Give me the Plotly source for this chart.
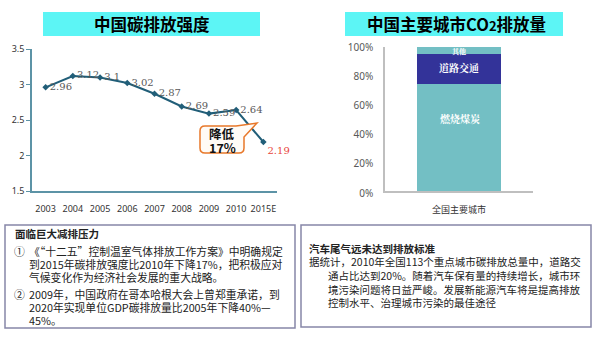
import plotly.graph_objects as go

# ---------------- data ----------------
years = ['2003', '2004', '2005', '2006', '2007', '2008', '2009', '2010', '2015E']
intensity = [2.96, 3.12, 3.1, 3.02, 2.87, 2.69, 2.59, 2.64, 2.19]
intensity_labels = ['2.96', '3.12', '3.1', '3.02', '2.87', '2.69', '2.59', '2.64', '2.19']

city_cat = ['全国主要城市']
seg_names = ['燃烧煤炭', '道路交通', '其他']
seg_values = [0.75, 0.20, 0.05]

left_title = '中国碳排放强度'
right_title = "中国主要城市CO<span style='font-size:13px'>2</span>排放量"
callout_lines = ['降低', '17%']

left_box_title = '面临巨大减排压力'
left_box_marks = ['①', '②']
left_box_items = [
    ['《“十二五”控制温室气体排放工作方案》中明确规定',
     '到2015年碳排放强度比2010年下降17%，把积极应对',
     '气候变化作为经济社会发展的重大战略。'],
    ['2009年，中国政府在哥本哈根大会上曾郑重承诺，到',
     '2020年实现单位GDP碳排放量比2005年下降40%—',
     '45%。'],
]
right_box_title = '汽车尾气远未达到排放标准'
right_box_lines = ['据统计，2010年全国113个重点城市碳排放总量中，道路交',
                   '通占比达到20%。随着汽车保有量的持续增长，城市环',
                   '境污染问题将日益严峻。发展新能源汽车将是提高排放',
                   '控制水平、治理城市污染的最佳途径']

# ---------------- helpers ----------------
W, H = 600, 345
CJK = 'Noto Sans CJK SC'


def px(x):
    return x / W


def py(y):
    return 1 - y / H


def note(x, y, text, size, color='#222222', xanchor='center', family=CJK):
    return dict(x=px(x), y=py(y), xref='paper', yref='paper', xanchor=xanchor, yanchor='middle',
                text=text, showarrow=False, font=dict(family=family, size=size, color=color))


fig = go.Figure()

# left line chart
label_pos = ['middle right'] * (len(years) - 1) + ['bottom right']
label_col = ['#595959'] * (len(years) - 1) + ['#E8463C']
fig.add_trace(go.Scatter(
    x=years, y=intensity, mode='lines+markers+text',
    text=intensity_labels, textposition=label_pos,
    textfont=dict(family='DejaVu Serif', size=10, color=label_col),
    line=dict(color='#215E78', width=2),
    marker=dict(symbol='diamond', size=5, color='#215E78'),
    xaxis='x', yaxis='y', showlegend=False, cliponaxis=False))

# right stacked bar
seg_colors = ['#73BFC4', '#333399', '#73BFC4']
for name, val, col in zip(seg_names, seg_values, seg_colors):
    fig.add_trace(go.Bar(
        x=city_cat, y=[val], name=name, marker=dict(color=col, line=dict(width=0)),
        width=0.57, xaxis='x2', yaxis='y2', showlegend=False))

# segment labels (placed through the data scale)
base = 0
seg_label_frac = [0.68, 0.55, 0.45]
seg_label_size = [10, 10, 7]
anns = []
for name, val, fr, sz in zip(seg_names, seg_values, seg_label_frac, seg_label_size):
    anns.append(dict(x=city_cat[0], y=base + val * fr, xref='x2', yref='y2', text='<b>' + name + '</b>',
                     xanchor='center', yanchor='middle',
                     showarrow=False, font=dict(family='Noto Serif CJK SC, ' + CJK, size=sz, color='white')))
    base += val

axis_col = '#5C93A6'
fig.update_layout(
    width=W, height=H, margin=dict(l=0, r=0, t=0, b=0, autoexpand=False),
    paper_bgcolor='white', plot_bgcolor='white',
    barmode='stack', bargap=0,
    xaxis=dict(domain=[px(32), px(277)], type='category', range=[-0.5, len(years) - 0.5],
               showline=True, linecolor=axis_col, linewidth=1.5, ticks='', showgrid=False,
               automargin=False,
               tickfont=dict(family='Noto Sans', size=9, color='#333333'), ticklabelstandoff=8),
    yaxis=dict(domain=[py(191), py(49)], range=[1.5, 3.5], dtick=0.5,
               showline=True, linecolor=axis_col, linewidth=1.5, ticks='outside', ticklen=4,
               tickcolor=axis_col, showgrid=False, zeroline=False, automargin=False,
               tickfont=dict(family='Noto Sans', size=9, color='#333333')),
    xaxis2=dict(domain=[px(385), px(533)], type='category', range=[-0.5, 0.5],
                showline=True, linecolor='#BFBFBF', linewidth=1.5, ticks='', showgrid=False,
                automargin=False,
                tickfont=dict(family=CJK, size=9, color='#333333'), ticklabelstandoff=9),
    yaxis2=dict(domain=[py(193), py(47)], range=[0, 1], dtick=0.2, tickformat='.0%',
                showline=True, linecolor='#BFBFBF', linewidth=1.5, ticks='', showgrid=False,
                zeroline=False, ticklabelstandoff=8, automargin=False,
                tickfont=dict(family='Noto Sans', size=10, color='#595959'), anchor='x2'),
)

shapes = []
# title boxes
title_fill = '#5CF5F5'
shapes.append(dict(type='rect', xref='paper', yref='paper', x0=px(43), x1=px(260), y0=py(36), y1=py(12),
                   fillcolor=title_fill, line=dict(width=0), layer='below'))
shapes.append(dict(type='rect', xref='paper', yref='paper', x0=px(345), x1=px(563), y0=py(36), y1=py(12),
                   fillcolor=title_fill, line=dict(width=0), layer='below'))
anns.append(note(151.5, 24, '<b>' + left_title + '</b>', 16.5, 'black'))
anns.append(note(456, 24, '<b>' + right_title + '</b>', 16.5, 'black'))

# callout
r = 5
x0c, x1c, y0c, y1c = 200, 244, 126, 153
pts = [('M', x0c + r, y0c), ('L', 236, y0c), ('L', 257, 123), ('L', x1c, 137),
       ('L', x1c, y1c - r), ('Q', x1c, y1c, x1c - r, y1c), ('L', x0c + r, y1c),
       ('Q', x0c, y1c, x0c, y1c - r), ('L', x0c, y0c + r), ('Q', x0c, y0c, x0c + r, y0c)]
path = ''
for p in pts:
    if p[0] == 'Q':
        path += 'Q%.5f,%.5f %.5f,%.5f ' % (px(p[1]), py(p[2]), px(p[3]), py(p[4]))
    else:
        path += '%s%.5f,%.5f ' % (p[0], px(p[1]), py(p[2]))
path += 'Z'
shapes.append(dict(type='path', xref='paper', yref='paper', path=path, fillcolor='#FFFBF6',
                   line=dict(color='#E8782A', width=1.5), layer='above'))
anns.append(note(222, 133, '<b>' + callout_lines[0] + '</b>', 12.5, '#111111'))
anns.append(note(222, 147, '<b>' + callout_lines[1] + '</b>', 12.5, '#111111'))

# bottom boxes
box_line = '#8686A8'
shapes.append(dict(type='rect', xref='paper', yref='paper', x0=px(5), x1=px(295), y0=py(328), y1=py(225),
                   fillcolor='rgba(0,0,0,0)', line=dict(color=box_line, width=1.5)))
shapes.append(dict(type='rect', xref='paper', yref='paper', x0=px(301), x1=px(591), y0=py(327), y1=py(225),
                   fillcolor='rgba(0,0,0,0)', line=dict(color=box_line, width=1.5)))

anns.append(note(13, 233, '<b>' + left_box_title + '</b>', 10.5, xanchor='left'))
item_y = [[251, 264, 277], [294, 307, 320]]
for mark, lines, ys in zip(left_box_marks, left_box_items, item_y):
    anns.append(note(12, ys[0], mark, 10.8, xanchor='left'))
    for ln, yy in zip(lines, ys):
        anns.append(note(27, yy, ln, 10.8, xanchor='left'))

anns.append(note(307, 248, '<b>' + right_box_title + '</b>', 10.5, xanchor='left'))
right_y = [261, 275, 289, 302]
for i, (ln, yy) in enumerate(zip(right_box_lines, right_y)):
    anns.append(note(307 if i == 0 else 326, yy, ln, 10.5, xanchor='left'))

fig.update_layout(shapes=shapes, annotations=anns)
fig.write_html('out.html')
